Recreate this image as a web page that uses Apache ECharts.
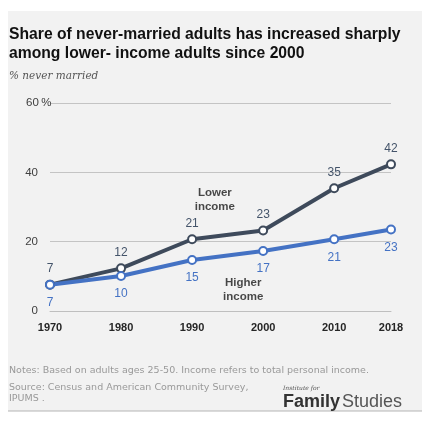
<!DOCTYPE html>
<html>
<head>
<meta charset="utf-8">
<script src="https://cdn.jsdelivr.net/npm/echarts@6/dist/echarts.min.js"></script>
<style>
  html, body { margin: 0; padding: 0; background: #fff; }
  #chart { width: 429px; height: 434px; }
</style>
</head>
<body>
<div id="chart"></div>
<script>
// data
var years = [1970, 1980, 1990, 2000, 2010, 2018]
var lowerIncome = [7.6, 12.3, 20.7, 23.2, 35.4, 42.3]
var higherIncome = [7.6, 10.1, 14.7, 17.3, 20.7, 23.5]
var lowerLabels = ['7', '12', '21', '23', '35', '42']
var higherLabels = ['7', '10', '15', '17', '21', '23']
var yTicks = [0, 20, 40, 60]
// annotation texts, placed in data space
var notes = [
  { name: 'Lower\nincome', x: 1993.2, y: 32 },
  { name: 'Higher\nincome', x: 1997.2, y: 6 }
]

var lowerColor = '#3e4a5b'
var higherColor = '#4472c4'

var chart = echarts.init(document.getElementById('chart'))

function pairs (xs, ys) {
  var out = []
  for (var i = 0; i < xs.length; i++) out.push([xs[i], ys[i]])
  return out
}

var option = {
  backgroundColor: '#fff',
  animation: false,
  title: {
    left: 9,
    top: 25,
    text: 'Share of never-married adults has increased sharply\namong lower- income adults since 2000',
    textStyle: { fontFamily: 'Liberation Sans', fontWeight: 'bold', fontSize: 15.7, lineHeight: 19, color: '#111' },
    subtext: '% never married',
    subtextStyle: { fontFamily: 'DejaVu Serif', fontStyle: 'italic', fontSize: 10.5, color: '#555', lineHeight: 14 },
    itemGap: 6,
    padding: 0
  },
  grid: { left: 50, right: 38, top: 103, bottom: 123 },
  xAxis: {
    type: 'value',
    min: 1970,
    max: 2018,
    axisLine: { show: true, lineStyle: { color: '#bfbfbf', width: 1 } },
    axisTick: { show: false },
    splitLine: { show: false },
    axisLabel: {
      customValues: years,
      margin: 11,
      formatter: function (v) { return String(v) },
      fontFamily: 'Liberation Sans',
      fontWeight: 'bold',
      fontSize: 11,
      color: '#262626'
    }
  },
  yAxis: {
    type: 'value',
    min: 0,
    max: 60,
    interval: 20,
    axisLine: { show: false },
    axisTick: { show: false },
    splitLine: { lineStyle: { color: '#c4c4c4', width: 1 } },
    axisLabel: {
      customValues: yTicks,
      align: 'left',
      margin: 23,
      formatter: function (v) {
        return v === 60 ? '{n|' + v + '}{p| %}' : '{n|' + v + '}'
      },
      rich: {
        n: { width: 11, align: 'right', fontFamily: 'Liberation Sans', fontSize: 11.5, color: '#404040' },
        p: { fontFamily: 'Liberation Sans', fontSize: 11.5, color: '#404040' }
      }
    }
  },
  series: [
    {
      name: 'Lower income',
      type: 'line',
      data: pairs(years, lowerIncome),
      lineStyle: { color: lowerColor, width: 4 },
      itemStyle: { color: '#fff', borderColor: lowerColor, borderWidth: 2 },
      symbol: 'circle',
      symbolSize: 8,
      label: {
        show: true,
        position: 'top',
        distance: 5,
        formatter: function (p) { return lowerLabels[p.dataIndex] },
        fontFamily: 'Liberation Sans',
        fontSize: 12,
        color: '#44546a'
      }
    },
    {
      name: 'Higher income',
      type: 'line',
      data: pairs(years, higherIncome),
      lineStyle: { color: higherColor, width: 4 },
      itemStyle: { color: '#fff', borderColor: higherColor, borderWidth: 2 },
      symbol: 'circle',
      symbolSize: 8,
      label: {
        show: true,
        position: 'bottom',
        distance: 7,
        formatter: function (p) { return higherLabels[p.dataIndex] },
        fontFamily: 'Liberation Sans',
        fontSize: 12,
        color: higherColor
      }
    },
    {
      name: 'notes',
      type: 'scatter',
      symbolSize: 0,
      silent: true,
      data: notes.map(function (n) { return { name: n.name, value: [n.x, n.y] } }),
      label: {
        show: true,
        position: 'inside',
        formatter: '{b}',
        fontFamily: 'Liberation Sans',
        fontWeight: 'bold',
        fontSize: 11.5,
        lineHeight: 14,
        color: '#1a1a1a',
        align: 'center'
      }
    }
  ],
  graphic: [
    {
      type: 'rect', z: -10, silent: true,
      shape: { x: 8, y: 11, width: 414, height: 400 },
      style: { fill: '#f2f2f2' }
    },
    {
      type: 'line', z: -9, silent: true,
      shape: { x1: 8, y1: 411, x2: 422, y2: 411 },
      style: { stroke: '#b5b5b5', lineWidth: 1 }
    },
    {
      type: 'text', left: 9, top: 366,
      style: { text: 'Notes: Based on adults ages 25-50. Income refers to total personal income.', font: '9.5px "DejaVu Sans"', fill: '#999' }
    },
    {
      type: 'text', left: 9, top: 382,
      style: { text: 'Source: Census and American Community Survey,\nIPUMS .', font: '9.5px "DejaVu Sans"', fill: '#999', lineHeight: 11 }
    },
    {
      type: 'text', left: 283, top: 385,
      style: { text: 'Institute for', font: 'italic 6px "DejaVu Serif"', fill: '#555' }
    },
    {
      type: 'text', left: 283, top: 393,
      style: {
        text: '{a|Family}{b|Studies}',
        rich: {
          a: { fontFamily: 'Liberation Sans', fontWeight: 'bold', fontSize: 18, fill: '#333' },
          b: { fontFamily: 'Liberation Sans', fontSize: 18, fill: '#555', padding: [0, 0, 0, 2] }
        }
      }
    }
  ]
}

chart.setOption(option)
</script>
</body>
</html>
